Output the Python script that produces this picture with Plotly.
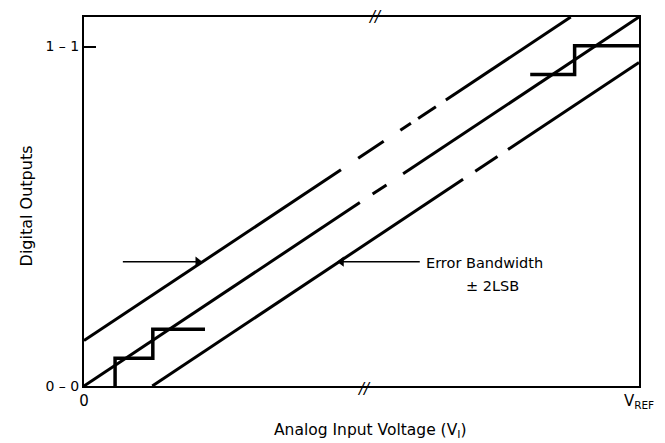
import plotly.graph_objects as go

# ---- data (normalized: x = Vin / VREF, y = digital code / full scale) ----
band_offset = 0.123

# segments (start, end) in x for each transfer line
upper_segments = [(0.0, 0.463), (0.494, 0.540), (0.570, 0.589), (0.602, 0.634), (0.652, 0.877)]
center_segments = [(0.0, 0.497), (0.520, 0.545), (0.575, 1.0)]
lower_segments = [(0.123, 0.683), (0.705, 0.745), (0.764, 1.0)]

# staircase transfer (low end and high end)
stair_low_x = [0.056, 0.056, 0.124, 0.124, 0.218]
stair_low_y = [0.0, 0.075, 0.075, 0.154, 0.154]
stair_high_x = [0.804, 0.884, 0.884, 1.0]
stair_high_y = [0.844, 0.844, 0.922, 0.922]

# error-band arrows (tail x, head x, y)
arrow_left = [0.070, 0.205, 0.337]
arrow_right = [0.605, 0.464, 0.337]

x_tick_vals = [0, 1]
x_tick_text = ["0", "V<sub>REF</sub>"]
y_tick_vals = [0, 0.92]
y_tick_text = ["0 \u2013 0", "1 \u2013 1"]


def seg_xy(segments, off):
    xs, ys = [], []
    for a, b in segments:
        xs += [a, b, None]
        ys += [a + off, b + off, None]
    return xs, ys


fig = go.Figure()
for segs, off in [(upper_segments, band_offset), (center_segments, 0.0), (lower_segments, -band_offset)]:
    xs, ys = seg_xy(segs, off)
    fig.add_trace(go.Scatter(x=xs, y=ys, mode="lines", line=dict(color="black", width=3),
                             hoverinfo="skip", showlegend=False, cliponaxis=False))

for sx, sy in [(stair_low_x, stair_low_y), (stair_high_x, stair_high_y)]:
    fig.add_trace(go.Scatter(x=sx, y=sy, mode="lines", line=dict(color="black", width=3.5),
                             hoverinfo="skip", showlegend=False, cliponaxis=False))

for (tx, hx, ay), sym in [(arrow_left, "triangle-right"), (arrow_right, "triangle-left")]:
    fig.add_trace(go.Scatter(x=[tx, hx], y=[ay, ay], mode="lines", line=dict(color="black", width=1.5),
                             hoverinfo="skip", showlegend=False))
    fig.add_trace(go.Scatter(x=[hx], y=[ay], mode="markers",
                             marker=dict(symbol=sym, size=9, color="black"),
                             hoverinfo="skip", showlegend=False))

font = "DejaVu Sans, Verdana, sans-serif"

fig.update_layout(
    width=665, height=443,
    margin=dict(l=76, r=34, t=7, b=65),
    paper_bgcolor="white", plot_bgcolor="white",
    font=dict(family=font, size=14, color="black"),
    xaxis=dict(range=[0, 1], showgrid=False, zeroline=False, showline=True, mirror=True,
               linecolor="black", linewidth=2, tickvals=x_tick_vals, ticktext=x_tick_text,
               ticks="", tickfont=dict(size=15)),
    yaxis=dict(range=[0, 1], showgrid=False, zeroline=False, showline=True, mirror=True,
               linecolor="black", linewidth=2, tickvals=y_tick_vals, ticktext=y_tick_text,
               ticks="inside", ticklen=12, tickwidth=2, tickcolor="black",
               tickfont=dict(size=14)),
    annotations=[
        dict(text="Analog Input Voltage (V<sub>I</sub>)", xref="paper", yref="paper",
             x=0.517, y=-0.121, xanchor="center", yanchor="middle", showarrow=False,
             font=dict(size=15.5)),
        dict(text="Digital Outputs", xref="paper", yref="paper", textangle=-90,
             x=-0.103, y=0.489, xanchor="center", yanchor="middle", showarrow=False,
             font=dict(size=16)),
        dict(text="Error Bandwidth", xref="x", yref="y", x=0.613, y=0.332,
             xanchor="left", yanchor="middle", showarrow=False, font=dict(size=14.5)),
        dict(text="\u00b1 2LSB", xref="x", yref="y", x=0.685, y=0.270,
             xanchor="left", yanchor="middle", showarrow=False, font=dict(size=14.5)),
        dict(text="<i>//</i>", xref="x", yref="paper", x=0.525, y=1.0, showarrow=False,
             xanchor="center", yanchor="middle", font=dict(size=15)),
        dict(text="<i>//</i>", xref="x", yref="paper", x=0.505, y=0.0, yshift=-3, showarrow=False,
             xanchor="center", yanchor="middle", font=dict(size=15)),
    ],
)

fig.write_html("out.html")
